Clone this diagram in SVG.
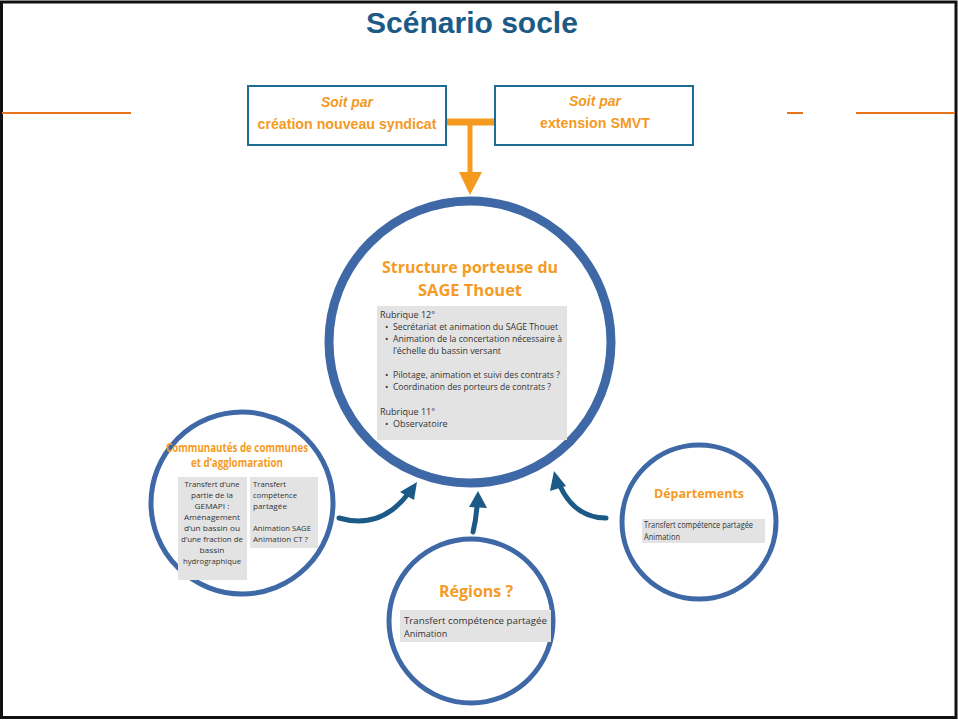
<svg xmlns="http://www.w3.org/2000/svg" width="958" height="720" viewBox="0 0 958 720">
<defs>
<style>
.title{font-family:"Liberation Sans Narrow","Liberation Sans",Arial,sans-serif;font-weight:bold;fill:#1c5a86;text-anchor:middle}
.box{fill:#fff;stroke:#1f6b96;stroke-width:2}
.boxt{font-family:"Liberation Sans",Arial,sans-serif;font-weight:bold;fill:#f39a1f;text-anchor:middle;font-size:15px}
.ring{fill:#fff;stroke:#3e68a6}
.head{font-family:"Open Sans","Noto Sans",sans-serif;font-weight:bold;fill:#f59b25;text-anchor:middle}
.gray{fill:#e3e3e3}
.body{font-family:"Open Sans","Noto Sans",sans-serif;fill:#333;font-size:9px}
.sm{font-size:7.8px}
.arr{fill:none;stroke:#1b5a87;stroke-width:5;stroke-linecap:round}
.ah{fill:#1b5a87}
.ol{stroke:#e5741c;stroke-width:2}
</style>
</defs>
<rect x="0" y="0" width="958" height="720" fill="#fff"/>
<rect x="1.5" y="2" width="954.5" height="715.5" fill="none" stroke="#111" stroke-width="3"/>
<g id="title"><text class="title" x="472" y="33" font-size="30">Scénario socle</text></g>
<g id="lines">
<line class="ol" x1="2" y1="113" x2="131" y2="113"/>
<line class="ol" x1="787" y1="113" x2="803" y2="113"/>
<line class="ol" x1="856" y1="113" x2="955" y2="113"/>
</g>
<g id="connectors">
<line x1="446" y1="122" x2="495" y2="122" stroke="#f39a1f" stroke-width="7"/>
<line x1="470" y1="122" x2="470" y2="176" stroke="#f39a1f" stroke-width="5"/>
<polygon points="459,172 482,172 470,195" fill="#f39a1f"/>
<path class="arr" d="M339,518 Q380,530 408,494"/>
<polygon class="ah" points="417,482 400,492 414,500"/>
<path class="arr" d="M473,532 Q476,520 477,506"/>
<polygon class="ah" points="478,491 469,507 487,508"/>
<path class="arr" d="M606,518 Q575,518 560,486"/>
<polygon class="ah" points="554,471 550,491 566,486"/>
</g>
<g id="box-creation">
<rect class="box" x="248" y="86" width="198" height="59"/>
<text class="boxt" x="347" y="107" font-style="italic" textLength="52" lengthAdjust="spacingAndGlyphs">Soit par</text>
<text class="boxt" x="347" y="129" textLength="179" lengthAdjust="spacingAndGlyphs">création nouveau syndicat</text>
</g>
<g id="box-extension">
<rect class="box" x="495" y="86" width="198" height="59"/>
<text class="boxt" x="595" y="106" font-style="italic" textLength="52" lengthAdjust="spacingAndGlyphs">Soit par</text>
<text class="boxt" x="595" y="128" textLength="110" lengthAdjust="spacingAndGlyphs">extension SMVT</text>
</g>
<g id="structure">
<circle class="ring" cx="470" cy="342" r="141" stroke-width="9"/>
<text class="head" x="470" y="273" font-size="16.5" textLength="176" lengthAdjust="spacingAndGlyphs">Structure porteuse du</text>
<text class="head" x="470" y="296" font-size="16.5" textLength="104" lengthAdjust="spacingAndGlyphs">SAGE Thouet</text>
<rect class="gray" x="377" y="306" width="190" height="134"/>
<text class="body" x="380" y="318">Rubrique 12°</text>
<text class="body" x="385" y="330">•</text><text class="body" x="393" y="330" textLength="165" lengthAdjust="spacingAndGlyphs">Secrétariat et animation du SAGE Thouet</text>
<text class="body" x="385" y="342">•</text><text class="body" x="393" y="342" textLength="169" lengthAdjust="spacingAndGlyphs">Animation de la concertation nécessaire à</text>
<text class="body" x="393" y="354" textLength="108" lengthAdjust="spacingAndGlyphs">l’échelle du bassin versant</text>
<text class="body" x="385" y="378">•</text><text class="body" x="393" y="378" textLength="167" lengthAdjust="spacingAndGlyphs">Pilotage, animation et suivi des contrats ?</text>
<text class="body" x="385" y="390">•</text><text class="body" x="393" y="390" textLength="158" lengthAdjust="spacingAndGlyphs">Coordination des porteurs de contrats ?</text>
<text class="body" x="380" y="415">Rubrique 11°</text>
<text class="body" x="385" y="427">•</text><text class="body" x="393" y="427">Observatoire</text>
</g>
<g id="communautes">
<circle class="ring" cx="242" cy="503" r="91" stroke-width="5"/>
<text class="head" x="237" y="452" font-size="11.5" textLength="142" lengthAdjust="spacingAndGlyphs">Communautés de communes</text>
<text class="head" x="237" y="467" font-size="11.5" textLength="92" lengthAdjust="spacingAndGlyphs">et d’agglomaration</text>
<rect class="gray" x="178" y="477" width="69" height="103"/>
<rect class="gray" x="250" y="477" width="68" height="71"/>
<g class="body sm" text-anchor="middle">
<text x="212" y="487" textLength="55" lengthAdjust="spacingAndGlyphs">Transfert d’une</text>
<text x="212" y="498" textLength="42" lengthAdjust="spacingAndGlyphs">partie de la</text>
<text x="212" y="509" textLength="35" lengthAdjust="spacingAndGlyphs">GEMAPI :</text>
<text x="212" y="520" textLength="56" lengthAdjust="spacingAndGlyphs">Aménagement</text>
<text x="212" y="531" textLength="56" lengthAdjust="spacingAndGlyphs">d’un bassin ou</text>
<text x="212" y="542" textLength="62" lengthAdjust="spacingAndGlyphs">d’une fraction de</text>
<text x="212" y="553" textLength="25" lengthAdjust="spacingAndGlyphs">bassin</text>
<text x="212" y="564" textLength="58" lengthAdjust="spacingAndGlyphs">hydrographique</text>
</g>
<g class="body sm">
<text x="253" y="487" textLength="33" lengthAdjust="spacingAndGlyphs">Transfert</text>
<text x="253" y="498" textLength="44" lengthAdjust="spacingAndGlyphs">compétence</text>
<text x="253" y="509" textLength="34" lengthAdjust="spacingAndGlyphs">partagée</text>
<text x="253" y="531" textLength="58" lengthAdjust="spacingAndGlyphs">Animation SAGE</text>
<text x="253" y="542" textLength="55" lengthAdjust="spacingAndGlyphs">Animation CT ?</text>
</g>
</g>
<g id="regions">
<circle class="ring" cx="471" cy="621" r="82" stroke-width="5"/>
<text class="head" x="476" y="597" font-size="16">Régions ?</text>
<rect class="gray" x="400" y="610" width="151" height="32"/>
<text class="body" x="404" y="624" font-size="9.5" textLength="143" lengthAdjust="spacingAndGlyphs">Transfert compétence partagée</text>
<text class="body" x="404" y="637" font-size="9.5">Animation</text>
</g>
<g id="departements">
<circle class="ring" cx="699" cy="522" r="77" stroke-width="5"/>
<text class="head" x="699" y="498" font-size="12.5">Départements</text>
<rect class="gray" x="642" y="519" width="123" height="24"/>
<text class="body" x="644" y="528" font-size="7.4" textLength="109" lengthAdjust="spacingAndGlyphs">Transfert compétence partagée</text>
<text class="body" x="644" y="540" font-size="7.4" textLength="36" lengthAdjust="spacingAndGlyphs">Animation</text>
</g>
</svg>
